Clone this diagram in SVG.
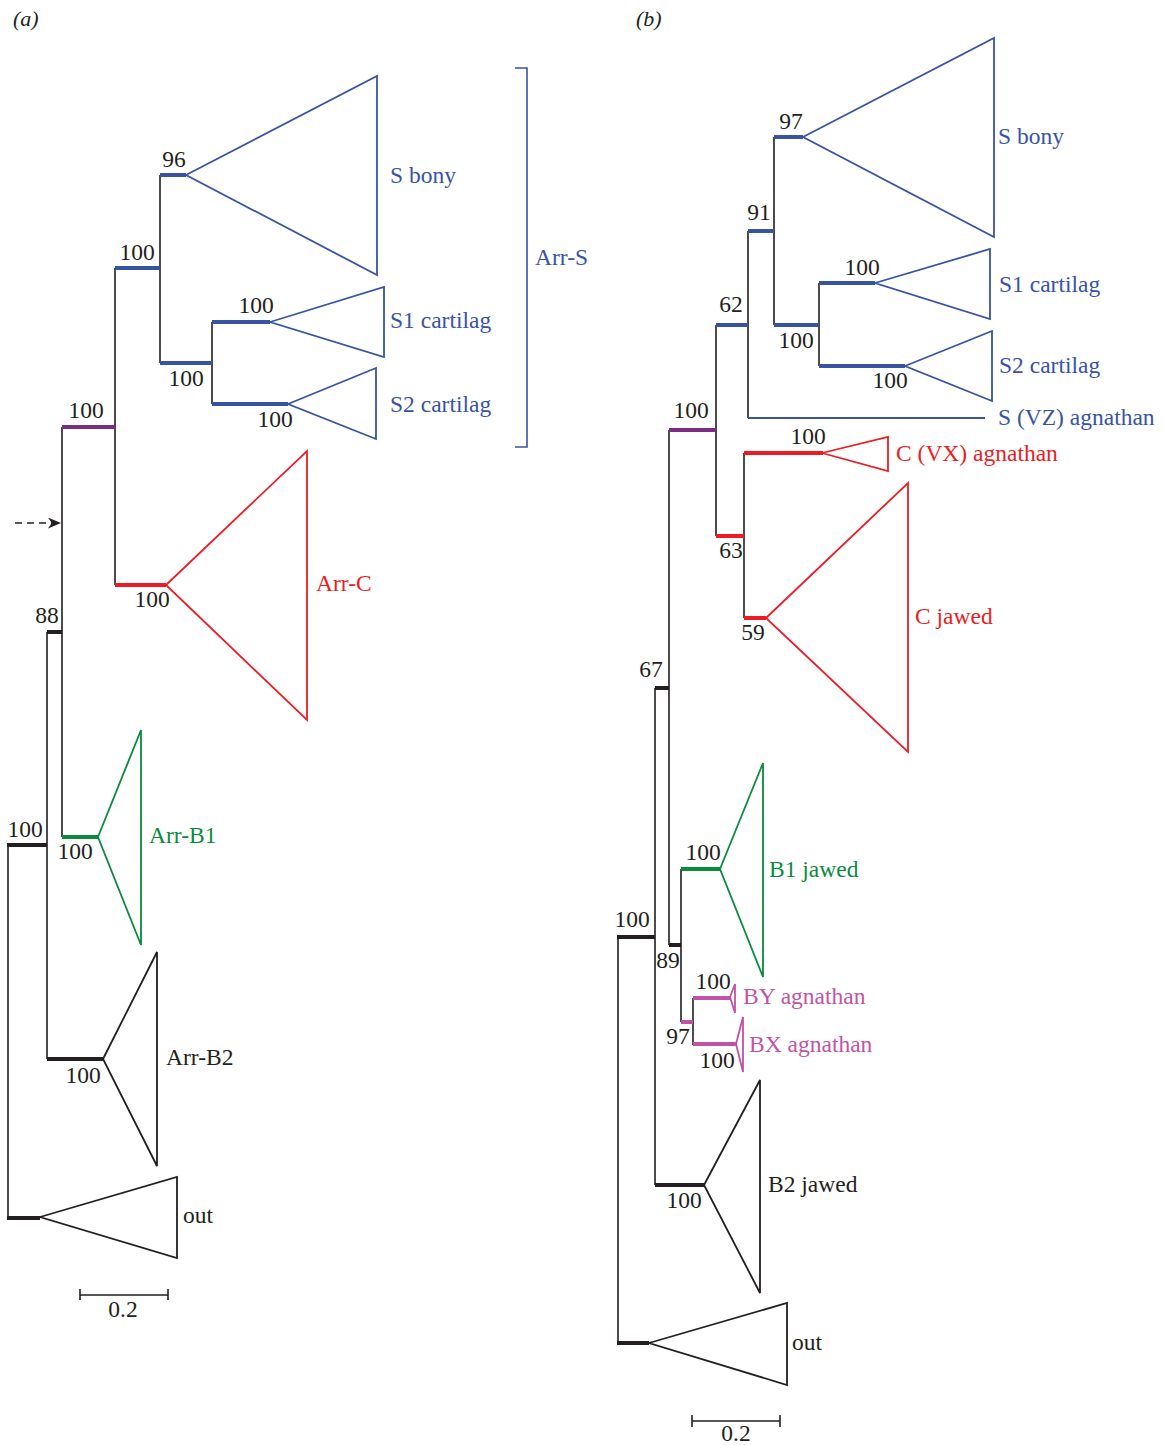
<svg xmlns="http://www.w3.org/2000/svg" width="1164" height="1445" viewBox="0 0 1164 1445">
<defs>
<style>
text{font-family:"Liberation Serif","Times New Roman",serif;font-size:23.5px;fill:#231f20}
.num{text-anchor:middle}
.ttl{font-style:italic;font-size:22px}
.v{stroke:#231f20;stroke-width:1.6;fill:none}
.tk{stroke-width:4;fill:none}
.k{stroke:#231f20}
.b{stroke:#3953a4}
.r{stroke:#ed1c24}
.g{stroke:#0b8a3e}
.p{stroke:#7b2d83}
.m{stroke:#c153a5}
.tri{fill:none;stroke-width:1.8;stroke-linejoin:miter}
.tb{fill:#3953a4}.tr{fill:#ed1c24}.tg{fill:#0b8a3e}.tm{fill:#c153a5}
</style>
<marker id="ah" viewBox="0 0 12 10" refX="12" refY="5" markerWidth="13" markerHeight="11" markerUnits="userSpaceOnUse" orient="auto">
<path d="M0,0 L12,5 L0,10 L3.5,5 Z" fill="#231f20"/>
</marker>
</defs>
<rect width="1164" height="1445" fill="#fff"/>

<text class="ttl" x="13" y="26">(a)</text>
<text class="ttl" x="636" y="26">(b)</text>

<!-- connectors -->
<g id="connectors">
<path class="v" d="M8,845V1218 M47,632V1059 M62,427V837 M115,268V585 M160,175V363 M212,322V404"/>
<path class="tk k" d="M7,845H47 M47,632H62 M47,1059H103 M7,1218H40"/>
<path class="tk g" d="M62,837H98"/>
<path class="tk p" d="M62,427H115"/>
<path class="tk r" d="M115,585H166"/>
<path class="tk b" d="M115,268H160 M160,175H186 M160,363H212 M212,322H270 M212,404H288"/>
<path d="M15,523H61" stroke="#231f20" stroke-width="1.6" stroke-dasharray="7,5" marker-end="url(#ah)" fill="none"/>

<path class="v" d="M618,937V1343 M655,688V1185 M669,430V945 M681,869V1022 M693,998V1045 M716,325V536 M744,453V618 M748,231V418 M774,137V325 M819,283V366"/>
<path class="tk k" d="M617,937H655 M655,688H669 M669,945H681 M655,1185H704 M617,1343H649"/>
<path class="tk g" d="M681,869H720"/>
<path class="tk m" d="M681,1022H693 M693,998H730 M693,1044H737"/>
<path class="tk p" d="M669,430H716"/>
<path class="tk r" d="M716,536H744 M744,453H823 M744,618H766"/>
<path class="tk b" d="M716,325H748 M748,231H774 M774,137H803 M774,325H819 M819,283H875 M819,366H905"/>
<path d="M748,418H985" stroke="#3953a4" stroke-width="2" fill="none"/>
</g>

<!-- support values -->
<g id="support">
<text class="num" x="25" y="837">100</text>
<text class="num" x="47" y="623">88</text>
<text class="num" x="75" y="859">100</text>
<text class="num" x="83" y="1083">100</text>
<text class="num" x="86" y="418">100</text>
<text class="num" x="152" y="607">100</text>
<text class="num" x="137" y="260">100</text>
<text class="num" x="174" y="167">96</text>
<text class="num" x="186" y="386">100</text>
<text class="num" x="256" y="313">100</text>
<text class="num" x="275" y="427">100</text>

<text class="num" x="632" y="927">100</text>
<text class="num" x="651" y="677">67</text>
<text class="num" x="668" y="968">89</text>
<text class="num" x="703" y="860">100</text>
<text class="num" x="678" y="1044">97</text>
<text class="num" x="713" y="989">100</text>
<text class="num" x="717" y="1068">100</text>
<text class="num" x="684" y="1208">100</text>
<text class="num" x="691" y="418">100</text>
<text class="num" x="731" y="558">63</text>
<text class="num" x="753" y="640">59</text>
<text class="num" x="808" y="444">100</text>
<text class="num" x="731" y="312">62</text>
<text class="num" x="759" y="220">91</text>
<text class="num" x="791" y="129">97</text>
<text class="num" x="796" y="348">100</text>
<text class="num" x="862" y="275">100</text>
<text class="num" x="890" y="388">100</text>
</g>

<!-- panel a clades -->
<g id="a-s-bony"><path class="tri b" d="M186,175L377,76V275Z"/><text class="tb" x="390" y="183">S bony</text></g>
<g id="a-s1-cartilag"><path class="tri b" d="M270,322L384,287V357Z"/><text class="tb" x="390" y="328">S1 cartilag</text></g>
<g id="a-s2-cartilag"><path class="tri b" d="M288,404L376,368V439Z"/><text class="tb" x="390" y="412">S2 cartilag</text></g>
<g id="a-arr-s"><path d="M515,68H527V447H515" stroke="#3953a4" stroke-width="1.6" fill="none"/><text class="tb" x="535" y="265">Arr-S</text></g>
<g id="a-arr-c"><path class="tri r" d="M166,585L307,451V720Z"/><text class="tr" x="316" y="591">Arr-C</text></g>
<g id="a-arr-b1"><path class="tri g" d="M98,837L141,730V945Z"/><text class="tg" x="149" y="843">Arr-B1</text></g>
<g id="a-arr-b2"><path class="tri k" d="M103,1059L157,952V1166Z"/><text x="166" y="1065">Arr-B2</text></g>
<g id="a-out"><path class="tri k" d="M40,1217L177,1177V1258Z"/><text x="183" y="1223">out</text></g>
<g id="a-scale"><path d="M80,1295H168 M80,1289V1300 M168,1289V1300" stroke="#231f20" stroke-width="1.6" fill="none"/><text class="num" x="123" y="1317">0.2</text></g>

<!-- panel b clades -->
<g id="b-s-bony"><path class="tri b" d="M803,137L994,38V237Z"/><text class="tb" x="998" y="144">S bony</text></g>
<g id="b-s1-cartilag"><path class="tri b" d="M875,283L990,249V319Z"/><text class="tb" x="999" y="292">S1 cartilag</text></g>
<g id="b-s2-cartilag"><path class="tri b" d="M905,366L992,331V401Z"/><text class="tb" x="999" y="373">S2 cartilag</text></g>
<g id="b-s-vz"><text class="tb" x="998" y="425">S (VZ) agnathan</text></g>
<g id="b-c-vx"><path class="tri r" d="M822,453L888,437V471Z"/><text class="tr" x="896" y="461">C (VX) agnathan</text></g>
<g id="b-c-jawed"><path class="tri r" d="M766,618L908,483V752Z"/><text class="tr" x="915" y="624">C jawed</text></g>
<g id="b-b1-jawed"><path class="tri g" d="M720,869L763,763V977Z"/><text class="tg" x="769" y="877">B1 jawed</text></g>
<g id="b-by"><path class="tri m" d="M730,997L735,984V1013Z"/><text class="tm" x="743" y="1004">BY agnathan</text></g>
<g id="b-bx"><path class="tri m" d="M736,1044L743,1017V1072Z"/><text class="tm" x="749" y="1052">BX agnathan</text></g>
<g id="b-b2-jawed"><path class="tri k" d="M704,1185L760,1080V1293Z"/><text x="768" y="1192">B2 jawed</text></g>
<g id="b-out"><path class="tri k" d="M649,1343L787,1303V1385Z"/><text x="792" y="1350">out</text></g>
<g id="b-scale"><path d="M692,1421H780 M692,1415V1427 M780,1415V1427" stroke="#231f20" stroke-width="1.6" fill="none"/><text class="num" x="736" y="1441">0.2</text></g>
</svg>
